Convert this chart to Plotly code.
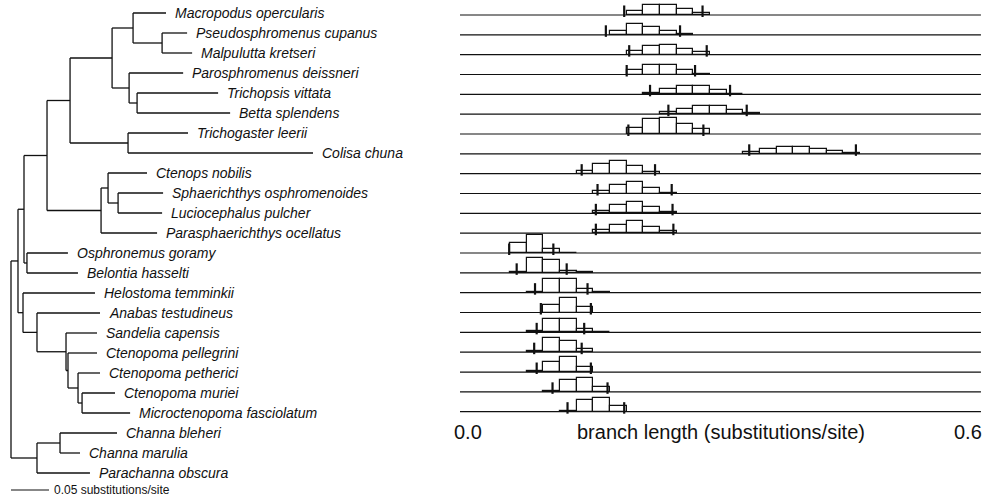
import plotly.graph_objects as go

# ---------------- DATA ----------------
# Phylogeny (branch lengths in substitutions/site)
TREE_NEWICK = (
    "(((((((Macropodus opercularis:0.0434,(Pseudosphromenus cupanus:0.0329,Malpulutta kretseri:0.0395):0.0382):0.0276,"
    "(Parosphromenus deissneri:0.0711,(Trichopsis vittata:0.1066,Betta splendens:0.1224):0.0105):0.0224):0.0553,"
    "(Trichogaster leerii:0.0789,Colisa chuna:0.2434):0.0763):0.0303,"
    "((Ctenops nobilis:0.0513,(Sphaerichthys osphromenoides:0.0592,Luciocephalus pulcher:0.0579):0.0132):0.0092,"
    "Parasphaerichthys ocellatus:0.0737):0.0711):0.0303,"
    "(Osphronemus goramy:0.0539,Belontia hasselti:0.0671):0.0039):0.0079,"
    "(Helostoma temminkii:0.0947,(Anabas testudineus:0.0829,(Sandelia capensis:0.0408,(Ctenopoma pellegrini:0.0382,"
    "(Ctenopoma petherici:0.0289,(Ctenopoma muriei:0.0434,Microctenopoma fasciolatum:0.0632):0.0053):0.0132):0.0026):0.0382):0.0184):0.0066):0.0092,"
    "((Channa bleheri:0.075,Channa marulia:0.0263):0.0303,Parachanna obscura:0.0697):0.0342);"
)
SCALE_BAR_LENGTH = 0.05
SCALE_BAR_LABEL = "0.05 substitutions/site"

# Posterior branch-length histograms (one row per species, top to bottom)
HIST_SPECIES = [
    "Macropodus opercularis", "Pseudosphromenus cupanus", "Malpulutta kretseri",
    "Parosphromenus deissneri", "Trichopsis vittata", "Betta splendens",
    "Trichogaster leerii", "Colisa chuna", "Ctenops nobilis",
    "Sphaerichthys osphromenoides", "Luciocephalus pulcher", "Parasphaerichthys ocellatus",
    "Osphronemus goramy", "Belontia hasselti", "Helostoma temminkii",
    "Anabas testudineus", "Sandelia capensis", "Ctenopoma pellegrini",
    "Ctenopoma petherici", "Ctenopoma muriei", "Microctenopoma fasciolatum",
]
HIST_BIN_WIDTH = 0.02
HIST_FIRST_BIN = [0.20, 0.18, 0.20, 0.20, 0.22, 0.24, 0.20, 0.34, 0.14, 0.16, 0.16,
                  0.16, 0.06, 0.06, 0.08, 0.10, 0.08, 0.08, 0.08, 0.10, 0.12]
HIST_HEIGHTS = [
    [4.0, 9.5, 9.5, 5.5, 2.0],
    [4.3, 11.0, 7.7, 4.3, 0.6],
    [3.5, 9.0, 10.0, 5.7, 2.3],
    [4.3, 9.3, 9.3, 5.0, 0.7],
    [1.0, 5.0, 8.3, 8.3, 4.0, 0.7],
    [2.0, 5.5, 8.0, 8.0, 4.0, 0.7],
    [6.5, 15.0, 16.0, 10.0, 5.0],
    [2.0, 4.5, 6.5, 6.5, 4.5, 3.0, 1.0],
    [3.0, 9.3, 13.0, 7.3, 1.5],
    [2.3, 8.3, 11.7, 6.0, 1.0],
    [2.7, 8.3, 11.0, 6.0, 1.0],
    [2.7, 8.3, 11.7, 6.0, 2.0],
    [10.0, 18.0, 4.0, 0.5],
    [0.7, 15.0, 13.0, 1.5, 0.5],
    [1.0, 13.3, 13.3, 3.7, 0.8],
    [7.3, 15.0, 5.7],
    [1.0, 13.7, 13.7, 3.3, 0.7],
    [1.5, 14.3, 11.0, 3.5],
    [0.7, 10.3, 15.3, 5.0],
    [1.0, 11.7, 14.3, 5.0],
    [1.0, 11.7, 14.0, 6.0],
]
HPD_LOW = [0.197, 0.175, 0.203, 0.200, 0.228, 0.250, 0.202, 0.347, 0.146, 0.165, 0.163,
           0.163, 0.059, 0.068, 0.090, 0.097, 0.092, 0.089, 0.092, 0.111, 0.129]
HPD_HIGH = [0.291, 0.264, 0.296, 0.282, 0.324, 0.344, 0.292, 0.475, 0.234, 0.254, 0.255,
            0.256, 0.112, 0.128, 0.153, 0.157, 0.149, 0.146, 0.157, 0.177, 0.197]
AXIS_MIN_LABEL = "0.0"
AXIS_MAX_LABEL = "0.6"
AXIS_TITLE = "branch length (substitutions/site)"

# ---------------- STYLE / LAYOUT CONSTANTS ----------------
W, H = 987, 499
INK = "#111111"
FONT = "Liberation Sans, Arial, sans-serif"
HEIGHT_UNIT = 19.8          # histogram heights are given in px-like units
BASELINE_END = 0.625


# ---------------- TREE PARSING / LAYOUT ----------------
def parse_newick(s):
    pos = 0

    def node():
        nonlocal pos
        children = []
        if s[pos] == "(":
            pos += 1
            while True:
                children.append(node())
                if s[pos] == ",":
                    pos += 1
                    continue
                if s[pos] == ")":
                    pos += 1
                    break
        start = pos
        while pos < len(s) and s[pos] not in ":,);":
            pos += 1
        name = s[start:pos]
        length = 0.0
        if pos < len(s) and s[pos] == ":":
            pos += 1
            start = pos
            while s[pos] not in ",);":
                pos += 1
            length = float(s[start:pos])
        return {"name": name, "len": length, "children": children}

    return node()


tree = parse_newick(TREE_NEWICK)
leaves = []


def layout(nd, depth):
    nd["x"] = depth + nd["len"] if nd is not tree else 0.0
    if not nd["children"]:
        nd["y"] = len(leaves)
        leaves.append(nd)
    else:
        for c in nd["children"]:
            layout(c, nd["x"])
        nd["y"] = (nd["children"][0]["y"] + nd["children"][-1]["y"]) / 2.0


layout(tree, 0.0)

tx, ty = [], []


def draw(nd):
    if nd["children"]:
        tx.extend([nd["x"], nd["x"], None])
        ty.extend([nd["children"][0]["y"], nd["children"][-1]["y"], None])
        for c in nd["children"]:
            tx.extend([nd["x"], c["x"], None])
            ty.extend([c["y"], c["y"], None])
            draw(c)


draw(tree)

fig = go.Figure()
fig.add_trace(go.Scatter(x=tx, y=ty, mode="lines", line=dict(color=INK, width=1.3),
                         hoverinfo="skip", showlegend=False, xaxis="x", yaxis="y"))

# scale bar
n_leaves = len(leaves)
scale_y = n_leaves - 0.15
fig.add_trace(go.Scatter(x=[0.0, SCALE_BAR_LENGTH], y=[scale_y, scale_y], mode="lines",
                         line=dict(color=INK, width=1.2), hoverinfo="skip",
                         showlegend=False, xaxis="x", yaxis="y"))

annotations = []
for lf in leaves:
    annotations.append(dict(x=lf["x"], y=lf["y"], xref="x", yref="y", text="<i>%s</i>" % lf["name"],
                            showarrow=False, xanchor="left", yanchor="middle", xshift=7,
                            font=dict(family=FONT, size=14, color=INK)))
annotations.append(dict(x=SCALE_BAR_LENGTH, y=scale_y, xref="x", yref="y", text=SCALE_BAR_LABEL,
                        showarrow=False, xanchor="left", yanchor="middle", xshift=3,
                        font=dict(family=FONT, size=12, color=INK)))

# ---------------- HISTOGRAMS ----------------
bx, by = [], []
for r in range(len(HIST_SPECIES)):
    bx.extend([0.0, BASELINE_END, None])
    by.extend([r, r, None])
fig.add_trace(go.Scatter(x=bx, y=by, mode="lines", line=dict(color=INK, width=1.2),
                         hoverinfo="skip", showlegend=False, xaxis="x2", yaxis="y2"))

for r, (start, hs) in enumerate(zip(HIST_FIRST_BIN, HIST_HEIGHTS)):
    centers = [start + HIST_BIN_WIDTH * (k + 0.5) for k in range(len(hs))]
    fig.add_trace(go.Bar(x=centers, y=[-h / HEIGHT_UNIT for h in hs], base=[r] * len(hs),
                         width=HIST_BIN_WIDTH,
                         marker=dict(color="white", line=dict(color=INK, width=1.2)),
                         hoverinfo="skip", showlegend=False, xaxis="x2", yaxis="y2"))

kx, ky = [], []
for r, (lo, hi) in enumerate(zip(HPD_LOW, HPD_HIGH)):
    for v in (lo, hi):
        kx.extend([v, v, None])
        ky.extend([r + 0.1, r - 0.48, None])
fig.add_trace(go.Scatter(x=kx, y=ky, mode="lines", line=dict(color=INK, width=2.2),
                         hoverinfo="skip", showlegend=False, xaxis="x2", yaxis="y2"))

yb = 1 - 432 / H
annotations += [
    dict(x=468 / W, y=yb, xref="paper", yref="paper", text=AXIS_MIN_LABEL, showarrow=False,
         xanchor="center", yanchor="middle", font=dict(family=FONT, size=20, color=INK)),
    dict(x=967.5 / W, y=yb, xref="paper", yref="paper", text=AXIS_MAX_LABEL, showarrow=False,
         xanchor="center", yanchor="middle", font=dict(family=FONT, size=20, color=INK)),
    dict(x=720.5 / W, y=yb, xref="paper", yref="paper", text=AXIS_TITLE, showarrow=False,
         xanchor="center", yanchor="middle", font=dict(family=FONT, size=20, color=INK)),
]

hidden = dict(visible=False, showgrid=False, zeroline=False, fixedrange=True)
fig.update_layout(
    width=W, height=H, margin=dict(l=0, r=0, t=0, b=0),
    paper_bgcolor="white", plot_bgcolor="white", barmode="overlay", bargap=0,
    showlegend=False, annotations=annotations,
    xaxis=dict(domain=[0, 1], range=[-11 / 760, (W - 11) / 760], anchor="y", **hidden),
    yaxis=dict(domain=[0, 1], range=[(H - 13) / 20, -13 / 20], anchor="x", **hidden),
    xaxis2=dict(domain=[0, 1], range=[-460 / 833.5, (W - 460) / 833.5], anchor="y2",
                overlaying="x", **hidden),
    yaxis2=dict(domain=[0, 1], range=[(H - 15) / 19.835, -15 / 19.835], anchor="x2",
                overlaying="y", **hidden),
)

fig.write_html("out.html")
